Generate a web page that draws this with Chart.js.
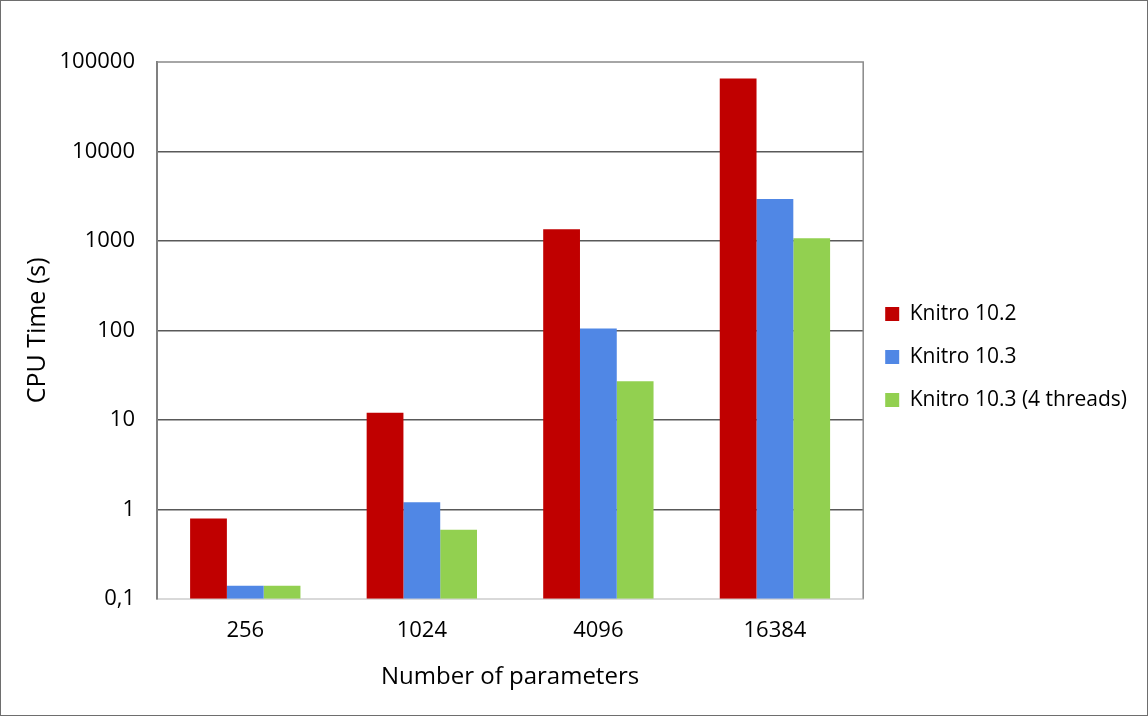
<!DOCTYPE html>
<html>
<head>
<meta charset="utf-8">
<script src="https://cdn.jsdelivr.net/npm/chart.js@4.4.0/dist/chart.umd.min.js"></script>
<style>
  html, body { margin: 0; padding: 0; background: #fff; }
  #wrap { position: relative; width: 1146px; height: 714px; border: 1px solid #6e6e6e; }
</style>
</head>
<body>
<div id="wrap"><canvas id="chart"></canvas></div>
<script>
// values (log scale, seconds)
const categories = ['256', '1024', '4096', '16384'];
const knitro102 = [0.79, 12, 1350, 65500];
const knitro103 = [0.14, 1.2, 105, 2940];
const knitro103threads = [0.14, 0.59, 27, 1070];
const yTicks = [0.1, 1, 10, 100, 1000, 10000, 100000];

const FONT = '"Open Sans", "Noto Sans", sans-serif';

// frame of the plot area (top and right edge, like the Excel plot border)
const plotFrame = {
  id: 'plotFrame',
  beforeDatasetsDraw(chart) {
    const { ctx, chartArea: a } = chart;
    ctx.save();
    ctx.strokeStyle = '#898989';
    ctx.lineWidth = 1.5;
    ctx.beginPath();
    ctx.moveTo(a.left, a.top);
    ctx.lineTo(a.right, a.top);
    ctx.lineTo(a.right, a.bottom);
    ctx.stroke();
    ctx.restore();
  }
};

const ctx = document.getElementById('chart').getContext('2d');
const myChart = new Chart(ctx, {
  type: 'bar',
  data: {
    labels: categories,
    datasets: [{
      label: 'Knitro 10.2',
      data: knitro102,
      backgroundColor: '#c00000'
    }, {
      label: 'Knitro 10.3',
      data: knitro103,
      backgroundColor: '#5087e5'
    }, {
      label: 'Knitro 10.3 (4 threads)',
      data: knitro103threads,
      backgroundColor: '#92d050'
    }]
  },
  plugins: [plotFrame],
  options: {
    responsive: true,
    maintainAspectRatio: false,
    animation: false,
    layout: { padding: { left: 10, top: 21, right: 10, bottom: 23 } },
    datasets: {
      bar: { categoryPercentage: 0.625, barPercentage: 1.0, borderWidth: 0 }
    },
    plugins: {
      tooltip: { enabled: false },
      legend: {
        position: 'right',
        labels: {
          boxWidth: 14,
          boxHeight: 14,
          padding: 22,
          color: '#000',
          font: { family: FONT, size: 21 }
        }
      }
    },
    scales: {
      // empty strip above the plot so the legend sits where Excel put it
      xTop: {
        type: 'category',
        position: 'top',
        grid: { display: false },
        border: { display: false },
        ticks: { display: false },
        afterFit: (s) => { s.height = 40; }
      },
      x: {
        grid: { color: 'transparent', drawTicks: false },
        border: { color: '#d9d9d9', width: 2 },
        ticks: { color: '#000', padding: 19, font: { family: FONT, size: 22 } },
        title: {
          display: true,
          text: 'Number of parameters',
          color: '#000',
          padding: { top: 0, bottom: 0 },
          font: { family: FONT, size: 24 }
        }
      },
      y: {
        type: 'logarithmic',
        min: 0.1,
        max: 100000,
        afterBuildTicks: (scale) => {
          scale.ticks = yTicks.map(v => ({ value: v }));
        },
        afterFit: (s) => { s.width = 146; },
        grid: {
          drawTicks: false,
          lineWidth: 1.5,
          color: (c) => (c.tick && (c.tick.value === 0.1 || c.tick.value === 100000)) ? 'transparent' : '#595959'
        },
        border: { color: '#808080', width: 2 },
        ticks: {
          color: '#000',
          padding: 22,
          font: { family: FONT, size: 22 },
          callback: (v) => v === 0.1 ? '0,1' : String(v)
        },
        title: {
          display: true,
          text: 'CPU Time (s)',
          color: '#000',
          padding: { top: 12, bottom: 8 },
          font: { family: FONT, size: 25 }
        }
      }
    }
  }
});
</script>
</body>
</html>
